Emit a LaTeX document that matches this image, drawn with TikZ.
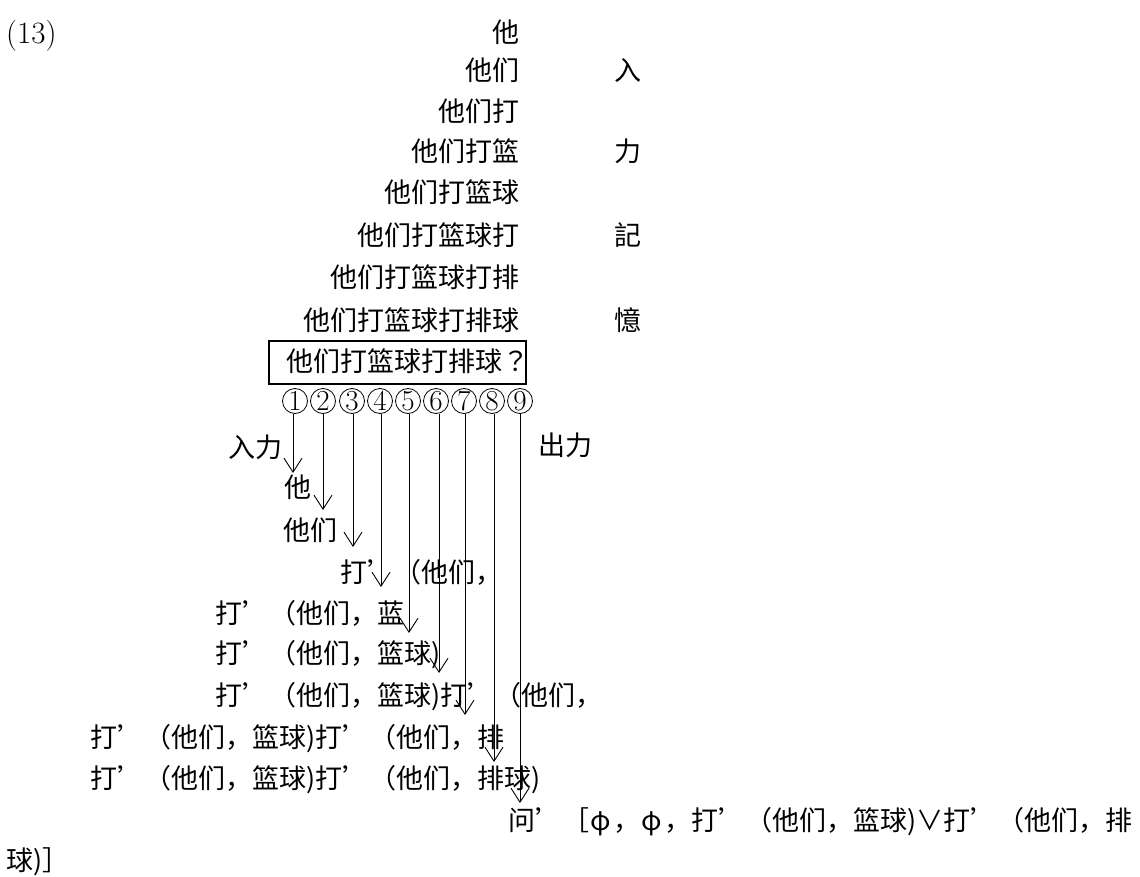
\documentclass[tikz,border=0pt]{standalone}
\usepackage{fontspec}
\newfontfamily\cjk{Noto Sans CJK SC}
\newfontfamily\cjkjp{Noto Sans CJK JP}
\usetikzlibrary{arrows.meta}
\newcommand{\fwphi}{\makebox[24pt]{φ}}
\begin{document}
\begin{tikzpicture}[x=1pt,y=-1pt,
  txt/.style={inner sep=0pt, text height=23.76pt, text depth=3.24pt, font=\cjk\fontsize{27}{27}\selectfont},
  circ/.style={circle, draw, line width=0.8pt, minimum size=25pt, inner sep=0pt, font=\fontsize{29}{29}\selectfont},
  arr/.style={line width=0.9pt, -{Straight Barb[length=14pt,width=18pt,line width=0.9pt]}},
  boxstyle/.style={draw, line width=1.6pt, inner sep=0pt, minimum width=257pt, minimum height=43pt, anchor=north west}
]
\useasboundingbox (0,0) rectangle (1140,877);
% label
\node[inner sep=0pt, anchor=west, font=\fontsize{31}{31}\selectfont] (num) at (6,36) {(13)};
% upper rows, right aligned
\node[txt, anchor=east] (u1) at (520,32) {他};
\node[txt, anchor=east] (u2) at (520,70) {他们};
\node[txt, anchor=east] (u3) at (520,111) {他们打};
\node[txt, anchor=east] (u4) at (520,151) {他们打篮};
\node[txt, anchor=east] (u5) at (520,192) {他们打篮球};
\node[txt, anchor=east] (u6) at (520,235) {他们打篮球打};
\node[txt, anchor=east] (u7) at (520,277) {他们打篮球打排};
\node[txt, anchor=east] (u8) at (520,320) {他们打篮球打排球};
% right column
\node[txt] (r1) at (628,70) {入};
\node[txt] (r2) at (628,151) {力};
\node[txt] (r3) at (628,235) {記};
\node[txt] (r4) at (628,320) {憶};
% box
\node[boxstyle] (box) at (268,340) {};
\node[txt, anchor=west] (boxtext) at (286,361) {他们打篮球打排球{\cjkjp ？}};
% circled numbers
\node[circ] (c1) at (295,401) {1};
\node[circ] (c2) at (323,401) {2};
\node[circ] (c3) at (352,401) {3};
\node[circ] (c4) at (380,401) {4};
\node[circ] (c5) at (408,401) {5};
\node[circ] (c6) at (436,401) {6};
\node[circ] (c7) at (464,401) {7};
\node[circ] (c8) at (492,401) {8};
\node[circ] (c9) at (520,401) {9};
% side labels
\node[txt, anchor=west] (in) at (228,447) {入力};
\node[txt, anchor=west] (out) at (538,445) {出力};
% lower rows
\node[txt, anchor=west] (l1) at (284,487) {他};
\node[txt, anchor=west] (l2) at (283,530) {他们};
\node[txt, anchor=west] (l3) at (340,572) {打’（他们，};
\node[txt, anchor=west] (l4) at (215,613) {打’（他们，蓝};
\node[txt, anchor=west] (l5) at (215,653) {打’（他们，篮球)};
\node[txt, anchor=west] (l6) at (215,695) {打’（他们，篮球)打’（他们，};
\node[txt, anchor=west] (l7) at (90,737) {打’（他们，篮球)打’（他们，排};
\node[txt, anchor=west] (l8) at (90,778) {打’（他们，篮球)打’（他们，排球)};
\node[txt, anchor=west] (l9) at (508,820) {问’［\fwphi，\fwphi，打’（他们，篮球)∨打’（他们，排};
\node[txt, anchor=west] (l10) at (6,860) {球)］};
% arrow end points
\coordinate (e1) at (293,473);
\coordinate (e2) at (323,510);
\coordinate (e3) at (353,547);
\coordinate (e4) at (381,587);
\coordinate (e5) at (409,633);
\coordinate (e6) at (439,673);
\coordinate (e7) at (465,715);
\coordinate (e8) at (494,762);
\coordinate (e9) at (520,803);
\foreach \i in {1,...,9}{
  \draw[arr] (c\i.south -| e\i) -- (e\i);
}
\end{tikzpicture}
\end{document}
